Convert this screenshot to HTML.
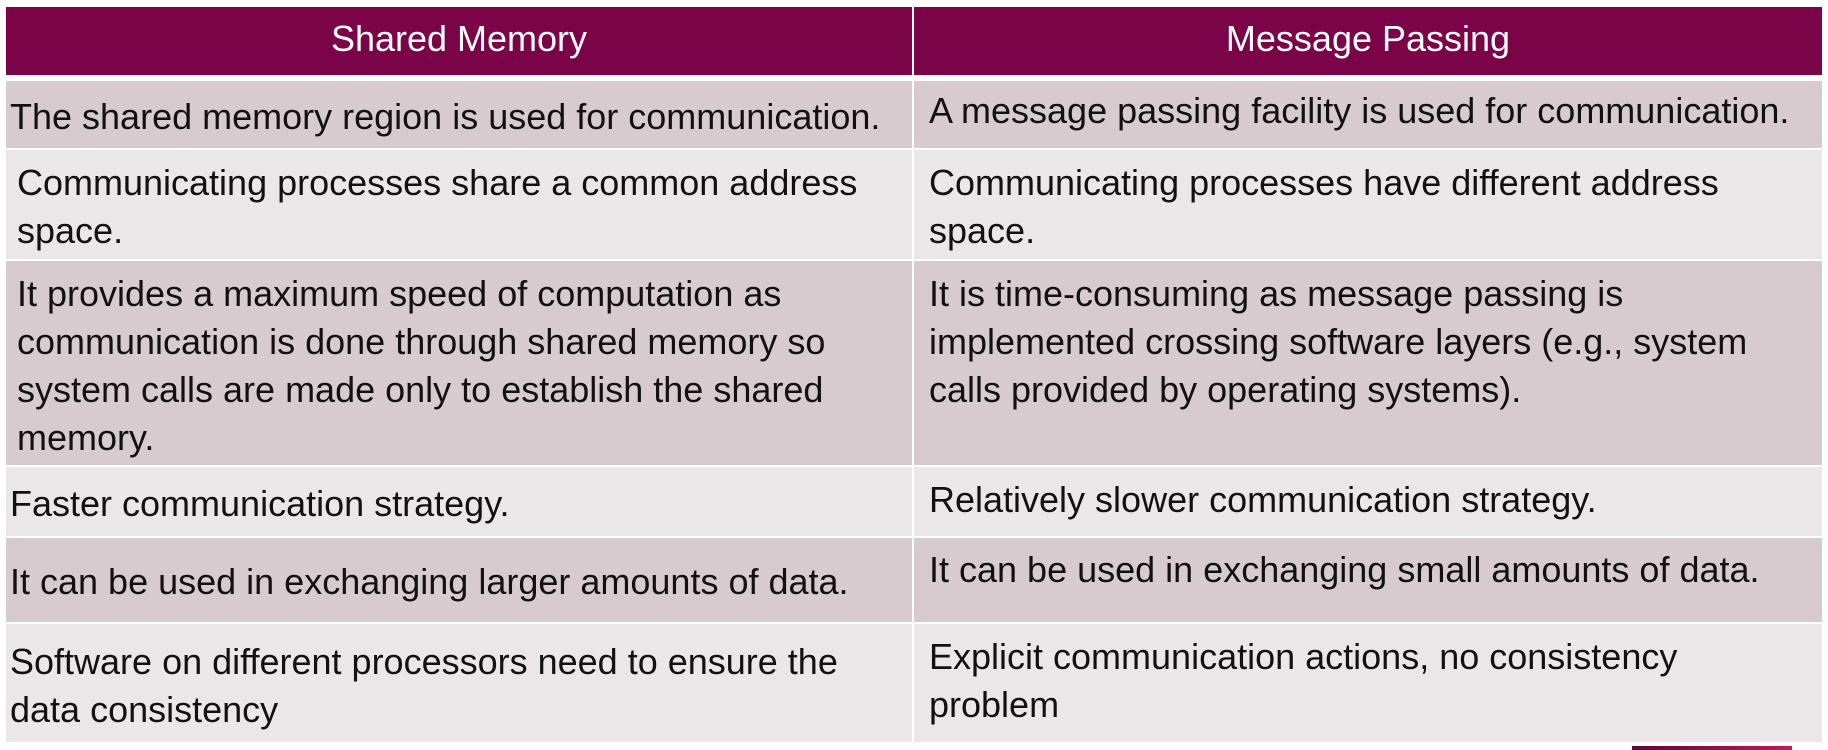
<!DOCTYPE html>
<html><head><style>
body{margin:0;width:1828px;height:750px;background:#fff;position:relative;overflow:hidden;font-family:"Liberation Sans",sans-serif;}
.b{position:absolute;}
.t{position:absolute;font-size:36px;line-height:48px;color:#111;white-space:nowrap;}
.h{position:absolute;color:#fff;font-size:36px;line-height:48px;text-align:center;}
</style></head><body>
<div class="b" style="left:6px;top:7px;width:906px;height:68px;background:#7B0449"></div>
<div class="b" style="left:914px;top:7px;width:908px;height:68px;background:#7B0449"></div>
<div class="h" style="left:6px;width:906px;top:15px">Shared Memory</div>
<div class="h" style="left:914px;width:908px;top:15px">Message Passing</div>

<div class="b" style="left:6px;top:81px;width:906px;height:67px;background:#D8CBCF"></div>
<div class="b" style="left:914px;top:81px;width:908px;height:67px;background:#D8CBCF"></div>
<div class="b" style="left:6px;top:150px;width:906px;height:109px;background:#EBE7E8"></div>
<div class="b" style="left:914px;top:150px;width:908px;height:109px;background:#EBE7E8"></div>
<div class="b" style="left:6px;top:261px;width:906px;height:204px;background:#D8CBCF"></div>
<div class="b" style="left:914px;top:261px;width:908px;height:204px;background:#D8CBCF"></div>
<div class="b" style="left:6px;top:467px;width:906px;height:69px;background:#EBE7E8"></div>
<div class="b" style="left:914px;top:467px;width:908px;height:69px;background:#EBE7E8"></div>
<div class="b" style="left:6px;top:538px;width:906px;height:84px;background:#D8CBCF"></div>
<div class="b" style="left:914px;top:538px;width:908px;height:84px;background:#D8CBCF"></div>
<div class="b" style="left:6px;top:624px;width:906px;height:118px;background:#EBE7E8"></div>
<div class="b" style="left:914px;top:624px;width:908px;height:118px;background:#EBE7E8"></div>
<div class="b" style="left:1632px;top:746px;width:160px;height:4px;background:linear-gradient(90deg,#5a0a3a,#c0185e)"></div>

<div class="t" style="left:10px;top:93px">The shared memory region is used for communication.</div>
<div class="t" style="left:929px;top:87px">A message passing facility is used for communication.</div>
<div class="t" style="left:17px;top:159px">Communicating processes share a common address<br>space.</div>
<div class="t" style="left:929px;top:159px">Communicating processes have different address<br>space.</div>
<div class="t" style="left:17px;top:270px">It provides a maximum speed of computation as<br>communication is done through shared memory so<br>system calls are made only to establish the shared<br>memory.</div>
<div class="t" style="left:929px;top:270px">It is time-consuming as message passing is<br>implemented crossing software layers (e.g., system<br>calls provided by operating systems).</div>
<div class="t" style="left:10px;top:480px">Faster communication strategy.</div>
<div class="t" style="left:929px;top:476px">Relatively slower communication strategy.</div>
<div class="t" style="left:10px;top:558px">It can be used in exchanging larger amounts of data.</div>
<div class="t" style="left:929px;top:546px">It can be used in exchanging small amounts of data.</div>
<div class="t" style="left:10px;top:638px">Software on different processors need to ensure the<br>data consistency</div>
<div class="t" style="left:929px;top:633px">Explicit communication actions, no consistency<br>problem</div>
</body></html>
